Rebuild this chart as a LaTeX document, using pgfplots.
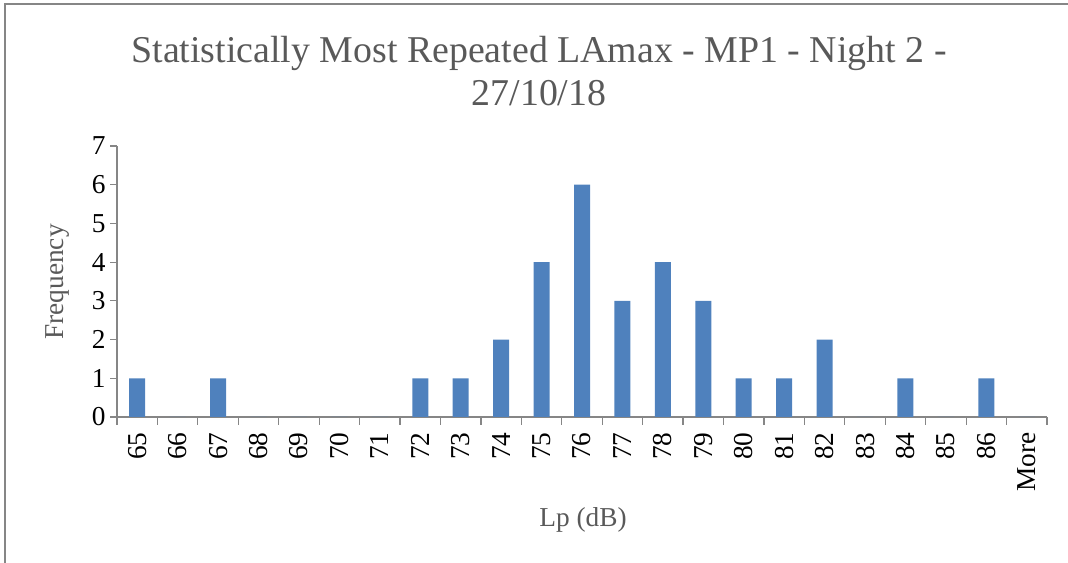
\documentclass[border=0pt]{standalone}
\usepackage{pgfplots}
\pgfplotsset{compat=1.18}
\usepackage{fontspec}
\setmainfont{Liberation Serif}
\definecolor{barblue}{HTML}{4F81BD}
\definecolor{axgray}{HTML}{868686}
\definecolor{txtgray}{HTML}{595959}
\begin{document}
\begin{tikzpicture}[x=0.75pt,y=0.75pt]
\useasboundingbox (0,0) rectangle (1068,563);
\draw[axgray,line width=1.2pt] (5,0) -- (5,559) -- (1068,559);
\begin{axis}[
  at={(87.75pt,109.5pt)}, anchor=south west,
  scale only axis, width=697.5pt, height=203.25pt,
  xmin=-0.5, xmax=22.5, ymin=0, ymax=7,
  axis x line*=bottom, axis y line*=left,
  axis line style={axgray, line width=0.9pt},
  ybar, bar width=12pt,
  xtick={0,...,22},
  xticklabels={65,66,67,68,69,70,71,72,73,74,75,76,77,78,79,80,81,82,83,84,85,86,More},
  major x tick style={draw=none},
  minor xtick={-0.5,0.5,...,22.5},
  minor x tick style={axgray, line width=0.9pt},
  minor tick length=6pt,
  ytick={0,...,7},
  major y tick style={axgray, line width=0.9pt},
  major tick length=5pt,
  tick align=outside,
  xticklabel style={rotate=90, anchor=east, font=\fontsize{20.5}{24}\selectfont, black, xshift=-3pt},
  yticklabel style={font=\fontsize{20.5}{24}\selectfont, black},
  /pgf/number format/assume math mode=true,
  clip=false,
]
\addplot[fill=barblue, draw=none] coordinates {
(0,1) (1,0) (2,1) (3,0) (4,0) (5,0) (6,0) (7,1) (8,1) (9,2) (10,4) (11,6)
(12,3) (13,4) (14,3) (15,1) (16,1) (17,2) (18,0) (19,1) (20,0) (21,1) (22,0)
};
\end{axis}
\node[anchor=base, txtgray, font=\fontsize{28.4}{32}\selectfont] at (539,500) {Statistically Most Repeated LAmax - MP1 - Night 2 -};
\node[anchor=base, txtgray, font=\fontsize{28.4}{32}\selectfont] at (539,457) {27/10/18};
\node[rotate=90, txtgray, font=\fontsize{20.5}{24}\selectfont] at (58,281) {Frequency};
\node[txtgray, font=\fontsize{20.5}{24}\selectfont] at (583,43) {Lp (dB)};
\end{tikzpicture}
\end{document}
